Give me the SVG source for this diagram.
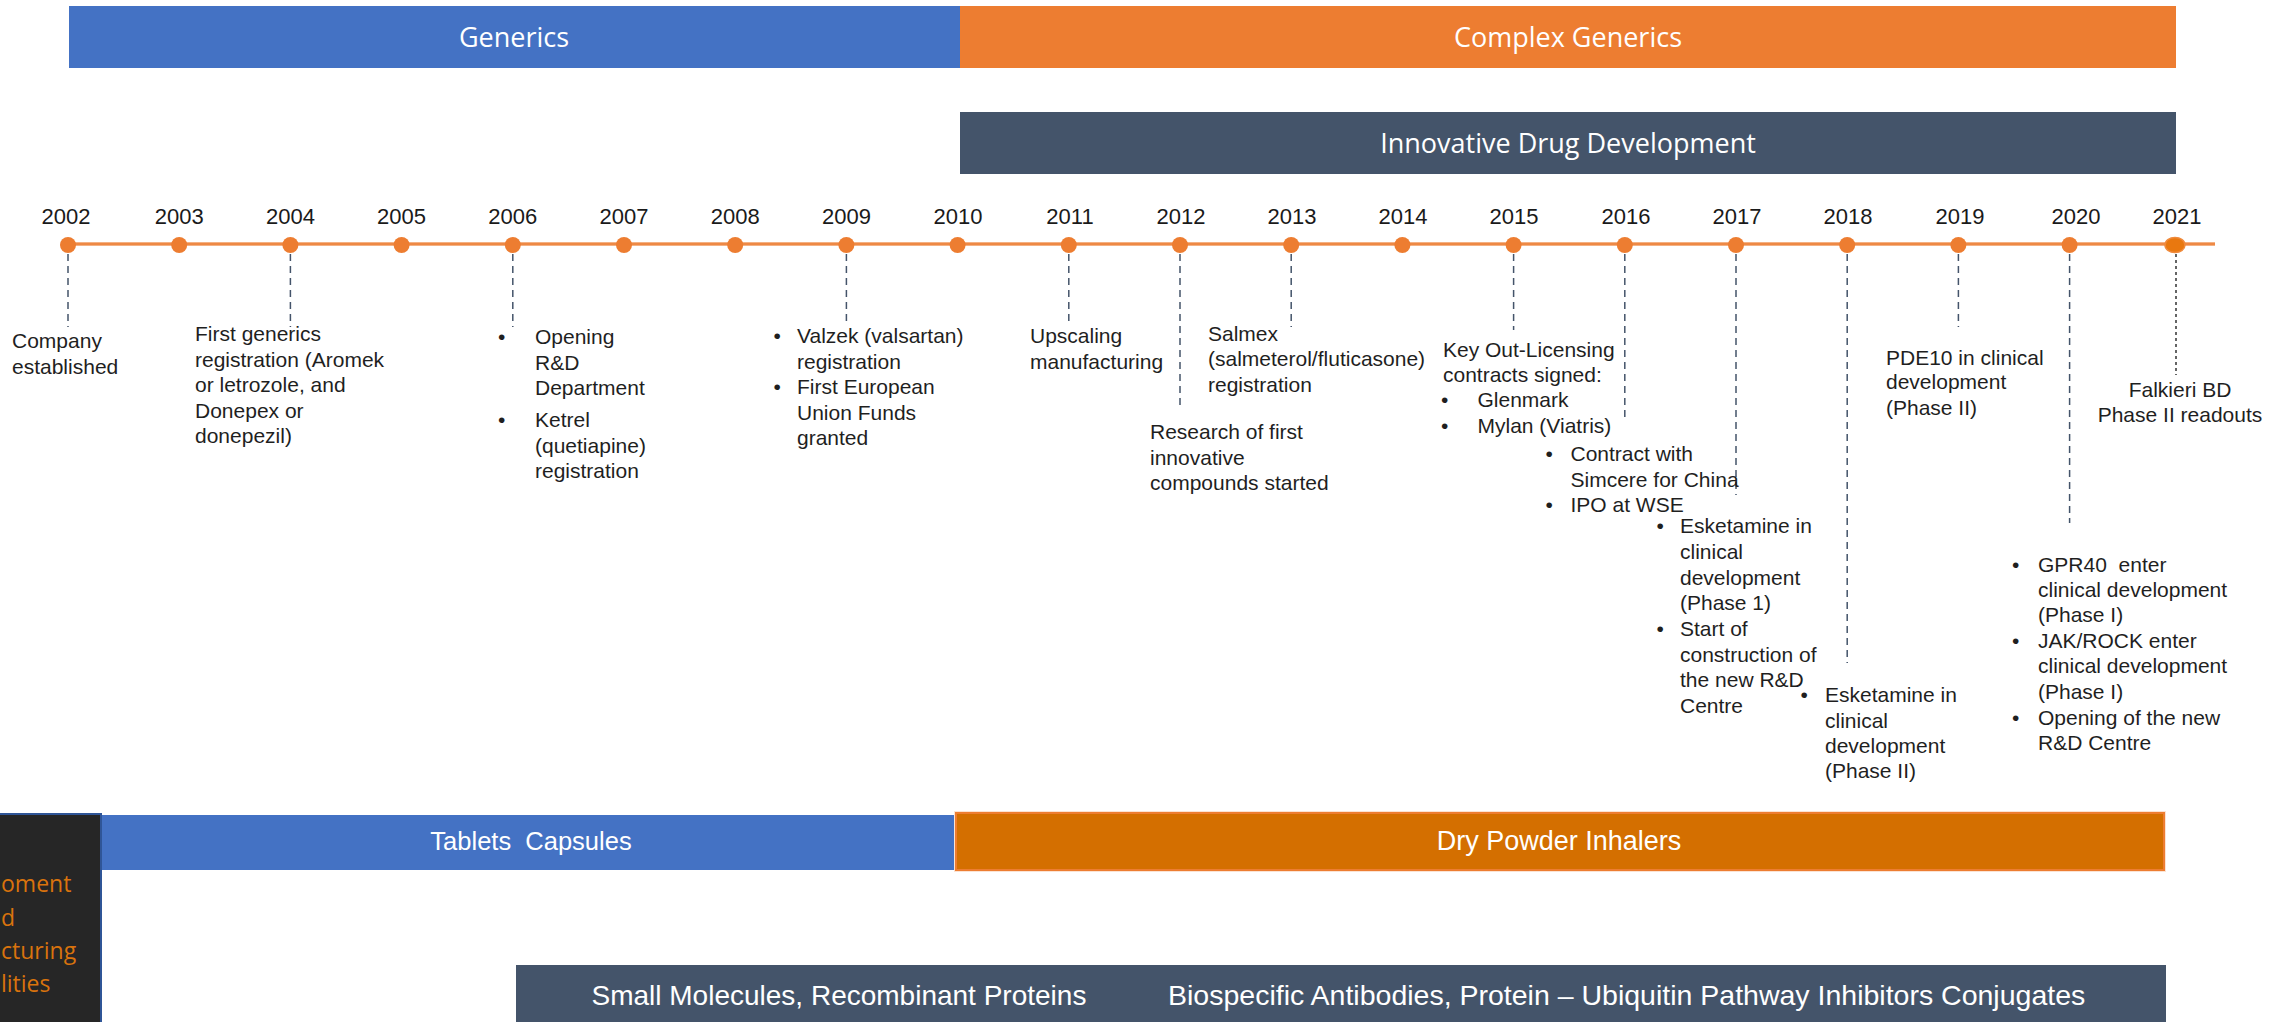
<svg xmlns="http://www.w3.org/2000/svg" width="2290" height="1022" viewBox="0 0 2290 1022">
<style>
.t{font-family:"Liberation Sans",Arial,sans-serif;font-size:21px;fill:#1f1f1f}
.yr{font-family:"Liberation Sans",Arial,sans-serif;font-size:22px;fill:#1a1a1a;text-anchor:middle}
.bt{font-family:"Open Sans","Liberation Sans",sans-serif;font-size:27px;fill:#fff;text-anchor:middle}
.bb{font-family:"Liberation Sans",Arial,sans-serif;fill:#fff}
.dash{stroke:#44546A;stroke-width:1.5;stroke-dasharray:7 5;fill:none}
.dot{fill:#ED7D31}
.cap{font-family:"Open Sans","Liberation Sans",sans-serif;font-size:23px;fill:#D9730D}
</style>
<rect width="2290" height="1022" fill="#ffffff"/>

<g id="band-generics">
<rect x="69" y="6" width="891" height="62" fill="#4472C4"/>
<text class="bt" x="514" y="47">Generics</text>
</g>
<g id="band-complex-generics">
<rect x="960" y="6" width="1216" height="62" fill="#ED7D31"/>
<text class="bt" x="1568" y="47">Complex Generics</text>
</g>
<g id="band-innovative">
<rect x="960" y="112" width="1216" height="62" fill="#44546A"/>
<text class="bt" x="1568" y="153">Innovative Drug Development</text>
</g>

<g id="timeline">
<line x1="68" y1="244" x2="2215" y2="244" stroke="#F4B183" stroke-width="4"/>
<line x1="68" y1="244" x2="2215" y2="244" stroke="#ED7D31" stroke-width="1.5"/>
<g class="dot">
<circle cx="68" cy="245" r="8"/><circle cx="179.2" cy="245" r="8"/><circle cx="290.4" cy="245" r="8"/><circle cx="401.6" cy="245" r="8"/><circle cx="512.8" cy="245" r="8"/><circle cx="624" cy="245" r="8"/><circle cx="735.2" cy="245" r="8"/><circle cx="846.4" cy="245" r="8"/><circle cx="957.6" cy="245" r="8"/><circle cx="1068.8" cy="245" r="8"/><circle cx="1180" cy="245" r="8"/><circle cx="1291.2" cy="245" r="8"/><circle cx="1402.4" cy="245" r="8"/><circle cx="1513.6" cy="245" r="8"/><circle cx="1624.8" cy="245" r="8"/><circle cx="1736" cy="245" r="8"/><circle cx="1847.2" cy="245" r="8"/><circle cx="1958.4" cy="245" r="8"/><circle cx="2069.6" cy="245" r="8"/>
</g>
<ellipse cx="2175" cy="245" rx="10" ry="7.5" fill="#E9780F" stroke="#F08A3C" stroke-width="1.5"/>
<text class="yr" x="66" y="224">2002</text><text class="yr" x="179.2" y="224">2003</text><text class="yr" x="290.4" y="224">2004</text><text class="yr" x="401.6" y="224">2005</text><text class="yr" x="512.8" y="224">2006</text><text class="yr" x="624" y="224">2007</text><text class="yr" x="735.2" y="224">2008</text><text class="yr" x="846.4" y="224">2009</text><text class="yr" x="958" y="224">2010</text><text class="yr" x="1070" y="224">2011</text><text class="yr" x="1181" y="224">2012</text><text class="yr" x="1292" y="224">2013</text><text class="yr" x="1403" y="224">2014</text><text class="yr" x="1514" y="224">2015</text><text class="yr" x="1626" y="224">2016</text><text class="yr" x="1737" y="224">2017</text><text class="yr" x="1848" y="224">2018</text><text class="yr" x="1960" y="224">2019</text><text class="yr" x="2076" y="224">2020</text><text class="yr" x="2177" y="224">2021</text>
</g>

<g id="connectors">
<line class="dash" x1="68" y1="254" x2="68" y2="327"/>
<line class="dash" x1="290.4" y1="254" x2="290.4" y2="327"/>
<line class="dash" x1="512.8" y1="254" x2="512.8" y2="327"/>
<line class="dash" x1="846.4" y1="254" x2="846.4" y2="325"/>
<line class="dash" x1="1068.8" y1="254" x2="1068.8" y2="325"/>
<line class="dash" x1="1180" y1="254" x2="1180" y2="405"/>
<line class="dash" x1="1291.2" y1="254" x2="1291.2" y2="327"/>
<line class="dash" x1="1513.6" y1="254" x2="1513.6" y2="330"/>
<line class="dash" x1="1624.8" y1="254" x2="1624.8" y2="422"/>
<line class="dash" x1="1736" y1="254" x2="1736" y2="495"/>
<line class="dash" x1="1847.2" y1="254" x2="1847.2" y2="663"/>
<line class="dash" x1="1958.4" y1="254" x2="1958.4" y2="327"/>
<line class="dash" x1="2069.6" y1="254" x2="2069.6" y2="523"/>
<line x1="2176" y1="254" x2="2176" y2="375" stroke="#333" stroke-width="1.5" stroke-dasharray="3 3"/>
</g>

<g id="event-2002">
<text class="t" x="12" y="348">Company</text>
<text class="t" x="12" y="374">established</text>
</g>
<g id="event-2004">
<text class="t" x="195" y="341">First generics</text>
<text class="t" x="195" y="366.5">registration (Aromek</text>
<text class="t" x="195" y="392">or letrozole, and</text>
<text class="t" x="195" y="417.5">Donepex or</text>
<text class="t" x="195" y="443">donepezil)</text>
</g>
<g id="event-2006">
<text class="t" x="498" y="344">•</text>
<text class="t" x="535" y="344">Opening</text>
<text class="t" x="535" y="369.5">R&amp;D</text>
<text class="t" x="535" y="395">Department</text>
<text class="t" x="498" y="427">•</text>
<text class="t" x="535" y="427">Ketrel</text>
<text class="t" x="535" y="452.5">(quetiapine)</text>
<text class="t" x="535" y="478">registration</text>
</g>
<g id="event-2009">
<text class="t" x="773.5" y="343">•</text>
<text class="t" x="797" y="343">Valzek (valsartan)</text>
<text class="t" x="797" y="368.5">registration</text>
<text class="t" x="773.5" y="394">•</text>
<text class="t" x="797" y="394">First European</text>
<text class="t" x="797" y="419.5">Union Funds</text>
<text class="t" x="797" y="445">granted</text>
</g>
<g id="event-2011">
<text class="t" x="1030" y="343">Upscaling</text>
<text class="t" x="1030" y="368.5">manufacturing</text>
</g>
<g id="event-2012">
<text class="t" x="1150" y="439">Research of first</text>
<text class="t" x="1150" y="464.5">innovative</text>
<text class="t" x="1150" y="490">compounds started</text>
</g>
<g id="event-2013">
<text class="t" x="1208" y="340.5">Salmex</text>
<text class="t" x="1208" y="366">(salmeterol/fluticasone)</text>
<text class="t" x="1208" y="391.5">registration</text>
</g>
<g id="event-2015">
<text class="t" x="1443" y="357">Key Out-Licensing</text>
<text class="t" x="1443" y="382">contracts signed:</text>
<text class="t" x="1441" y="407">•</text>
<text class="t" x="1477.5" y="407">Glenmark</text>
<text class="t" x="1441" y="432.5">•</text>
<text class="t" x="1477.5" y="432.5">Mylan (Viatris)</text>
</g>
<g id="event-2016">
<text class="t" x="1545.5" y="461">•</text>
<text class="t" x="1570.5" y="461">Contract with</text>
<text class="t" x="1570.5" y="486.5">Simcere for China</text>
<text class="t" x="1545.5" y="512">•</text>
<text class="t" x="1570.5" y="512">IPO at WSE</text>
</g>
<g id="event-2017">
<text class="t" x="1656.5" y="532.5">•</text>
<text class="t" x="1680" y="532.5">Esketamine in</text>
<text class="t" x="1680" y="558.5">clinical</text>
<text class="t" x="1680" y="584.5">development</text>
<text class="t" x="1680" y="610">(Phase 1)</text>
<text class="t" x="1656.5" y="636">•</text>
<text class="t" x="1680" y="636">Start of</text>
<text class="t" x="1680" y="661.5">construction of</text>
<text class="t" x="1680" y="687">the new R&amp;D</text>
<text class="t" x="1680" y="713">Centre</text>
</g>
<g id="event-2018">
<text class="t" x="1800.5" y="702">•</text>
<text class="t" x="1825" y="702">Esketamine in</text>
<text class="t" x="1825" y="727.5">clinical</text>
<text class="t" x="1825" y="752.5">development</text>
<text class="t" x="1825" y="778">(Phase II)</text>
</g>
<g id="event-2019">
<text class="t" x="1886" y="364.5">PDE10 in clinical</text>
<text class="t" x="1886" y="389">development</text>
<text class="t" x="1886" y="414.5">(Phase II)</text>
</g>
<g id="event-2020">
<text class="t" x="2012" y="571.5">•</text>
<text class="t" x="2038" y="571.5">GPR40&#160; enter</text>
<text class="t" x="2038" y="596.5">clinical development</text>
<text class="t" x="2038" y="622">(Phase I)</text>
<text class="t" x="2012" y="647.5">•</text>
<text class="t" x="2038" y="647.5">JAK/ROCK enter</text>
<text class="t" x="2038" y="673">clinical development</text>
<text class="t" x="2038" y="698.5">(Phase I)</text>
<text class="t" x="2012" y="724.5">•</text>
<text class="t" x="2038" y="724.5">Opening of the new</text>
<text class="t" x="2038" y="750">R&amp;D Centre</text>
</g>
<g id="event-2021">
<text class="t" x="2180" y="396.5" text-anchor="middle">Falkieri BD</text>
<text class="t" x="2180" y="421.5" text-anchor="middle">Phase II readouts</text>
</g>

<g id="capabilities-box">
<rect x="-2" y="814" width="103" height="210" fill="#262626" stroke="#2F5597" stroke-width="2"/>
<text class="cap" x="1" y="892">oment</text>
<text class="cap" x="1" y="926">d</text>
<text class="cap" x="1" y="959">cturing</text>
<text class="cap" x="1" y="992" font-size="25">lities</text>
</g>
<g id="band-tablets">
<rect x="102" y="815" width="858" height="55" fill="#4472C4"/>
<text class="bb" x="531" y="850" font-size="25.5" text-anchor="middle">Tablets&#160; Capsules</text>
</g>
<g id="band-dpi">
<rect x="956" y="813" width="1208" height="57" fill="#D46F00" stroke="#FBE3D3" stroke-width="4"/>
<rect x="956" y="813" width="1208" height="57" fill="#D46F00" stroke="#ED7D31" stroke-width="2"/>
<text class="bb" x="1559" y="850" font-size="27" text-anchor="middle">Dry Powder Inhalers</text>
</g>
<g id="band-modalities">
<rect x="516" y="965" width="1650" height="60" fill="#44546A"/>
<text class="bb" x="591.5" y="1005" font-size="28">Small Molecules, Recombinant Proteins</text>
<text class="bb" x="1168" y="1005" font-size="28.5">Biospecific Antibodies, Protein – Ubiquitin Pathway Inhibitors Conjugates</text>
</g>
</svg>
